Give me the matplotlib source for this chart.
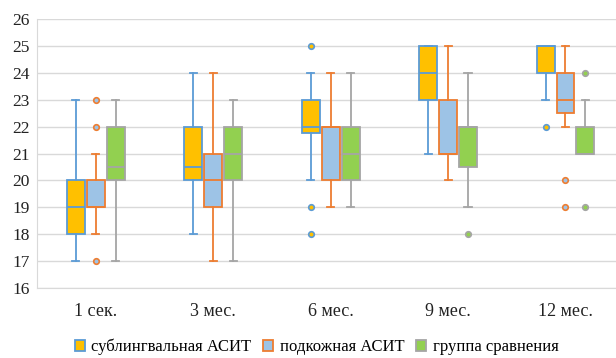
import matplotlib.pyplot as plt
from matplotlib.patches import Patch

plt.rcParams['font.family'] = ['Liberation Serif', 'DejaVu Serif']

# categories and series names
categories = ['1 сек.', '3 мес.', '6 мес.', '9 мес.', '12 мес.']
series = ['сублингвальная АСИТ', 'подкожная АСИТ', 'группа сравнения']

# box statistics: lower whisker, q1, median, q3, upper whisker, outliers
subl_lo = [17, 18, 20, 21, 23]
subl_q1 = [18, 20, 21.75, 23, 24]
subl_med = [19, 20.5, 22, 24, 25]
subl_q3 = [20, 22, 23, 25, 25]
subl_hi = [23, 24, 24, 25, 25]
subl_out = [[], [], [25, 19, 18], [], [22]]

subc_lo = [18, 17, 19, 20, 22]
subc_q1 = [19, 19, 20, 21, 22.5]
subc_med = [19, 20, 22, 21, 23]
subc_q3 = [20, 21, 22, 23, 24]
subc_hi = [21, 24, 24, 25, 25]
subc_out = [[17, 22, 23], [], [], [], [20, 19]]

comp_lo = [17, 17, 19, 19, 21]
comp_q1 = [20, 20, 20, 20.5, 21]
comp_med = [20.5, 21, 21, 22, 21]
comp_q3 = [22, 22, 22, 22, 22]
comp_hi = [23, 23, 24, 24, 23]
comp_out = [[], [], [], [18], [24, 19]]

fills = ['#FFC000', '#9DC3E6', '#92D050']
edges = ['#5B9BD5', '#ED7D31', '#A5A5A5']

groups = [
    (subl_lo, subl_q1, subl_med, subl_q3, subl_hi, subl_out),
    (subc_lo, subc_q1, subc_med, subc_q3, subc_hi, subc_out),
    (comp_lo, comp_q1, comp_med, comp_q3, comp_hi, comp_out),
]

fig = plt.figure(figsize=(6.16, 3.58), dpi=100)
# plot area runs off the right edge, as in the cropped original
ax = fig.add_axes([0.060, 0.1955, 0.94, 0.7514])

offsets = [-0.17, 0, 0.17]
width = 0.153

for k, (lo, q1, med, q3, hi, out) in enumerate(groups):
    stats = []
    for i in range(len(categories)):
        stats.append(dict(whislo=lo[i], q1=q1[i], med=med[i], q3=q3[i],
                          whishi=hi[i], fliers=out[i]))
    pos = [i + offsets[k] for i in range(len(categories))]
    ax.bxp(stats, positions=pos, widths=width, patch_artist=True,
           showfliers=True, manage_ticks=False,
           boxprops=dict(facecolor=fills[k], edgecolor=edges[k], linewidth=1.3),
           medianprops=dict(color=edges[k], linewidth=1.3),
           whiskerprops=dict(color=edges[k], linewidth=1.3),
           capprops=dict(color=edges[k], linewidth=1.3),
           capwidths=0.06,
           flierprops=dict(marker='o', markersize=4, markerfacecolor=fills[k],
                           markeredgecolor=edges[k], markeredgewidth=1.2))

ax.set_ylim(16, 26)
ax.set_yticks(range(16, 27))
ax.set_xlim(-0.5, 4.43)
ax.set_xticks(range(len(categories)))
ax.set_xticklabels(categories)
ax.tick_params(length=0, colors='#222222')
ax.tick_params(axis='x', pad=11, labelsize=13)
ax.tick_params(axis='y', pad=5, labelsize=12.5)
ax.grid(axis='y', color='#D9D9D9', linewidth=1)
ax.set_axisbelow(True)
for s in ['top', 'right']:
    ax.spines[s].set_visible(False)
for s in ['left', 'bottom']:
    ax.spines[s].set_color('#D9D9D9')

handles = [Patch(facecolor=fills[k], edgecolor=edges[k], linewidth=1.3, label=series[k])
           for k in range(3)]
fig.legend(handles=handles, loc='center', bbox_to_anchor=(0.514, 0.031), ncol=3,
           frameon=False, fontsize=12, handlelength=0.6, handleheight=0.6,
           handletextpad=0.4, columnspacing=0.7, borderpad=0, borderaxespad=0)

fig.savefig('out.png', dpi=100)
